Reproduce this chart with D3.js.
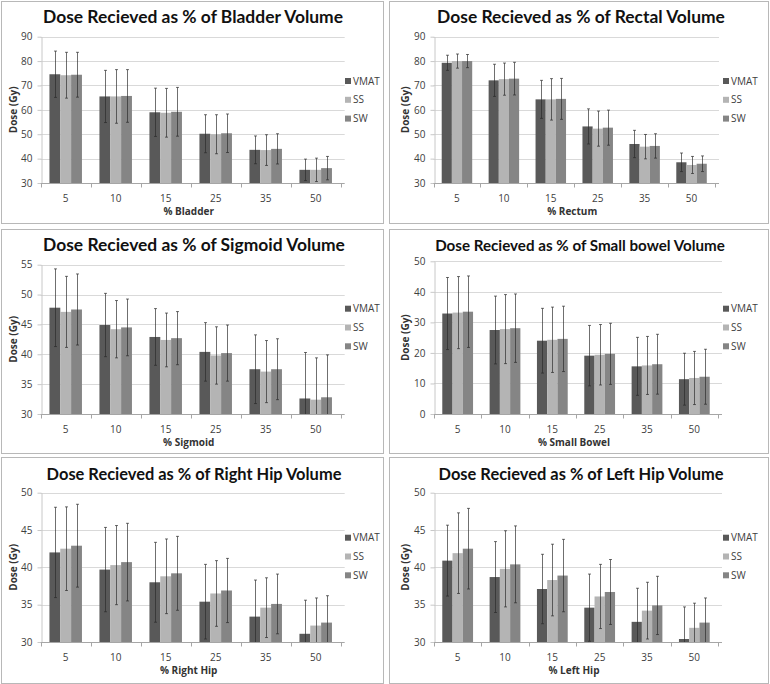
<!DOCTYPE html>
<html><head><meta charset="utf-8">
<script src="https://cdn.jsdelivr.net/npm/d3@7"></script>
<style>body{margin:0;background:#fff}svg{display:block}</style></head>
<body>
<svg id="c" width="770" height="684"></svg>
<script>
// ---------------- DATA ----------------
const categories = ["5", "10", "15", "25", "35", "50"];
const seriesNames = ["VMAT", "SS", "SW"];

const ticksDose90 = [30, 40, 50, 60, 70, 80, 90];
const ticksSigmoid = [30, 35, 40, 45, 50, 55];
const ticksBowel = [0, 10, 20, 30, 40, 50];
const ticksHip = [30, 35, 40, 45, 50];

// rows: VMAT, SS, SW ; columns follow categories
const bladderMean = [[74.6, 65.5, 59.0, 50.2, 43.6, 35.4], [74.2, 65.5, 58.8, 50.0, 43.5, 35.4], [74.4, 65.7, 59.2, 50.4, 44.0, 36.1]];
const bladderErr  = [[9.5, 10.7, 9.9, 7.8, 5.7, 4.4], [9.4, 11.0, 10.0, 8.0, 6.3, 4.8], [9.2, 10.8, 10.0, 7.9, 6.2, 4.8]];

const rectumMean = [[79.3, 72.1, 64.3, 53.2, 46.0, 38.5], [80.0, 72.6, 64.3, 52.3, 44.9, 37.4], [80.0, 72.8, 64.5, 52.7, 45.2, 37.9]];
const rectumErr  = [[3.1, 6.6, 7.8, 7.2, 5.6, 3.8], [2.9, 6.6, 8.5, 7.2, 5.0, 3.5], [2.7, 6.7, 8.4, 7.2, 5.0, 3.2]];

const sigmoidMean = [[47.8, 44.9, 42.9, 40.4, 37.5, 32.6], [47.1, 44.2, 42.4, 39.8, 37.1, 32.4], [47.5, 44.5, 42.7, 40.2, 37.5, 32.8]];
const sigmoidErr  = [[6.5, 5.3, 4.75, 4.9, 5.75, 7.7], [5.95, 4.8, 4.5, 4.8, 5.2, 7.0], [5.95, 4.75, 4.45, 4.7, 5.1, 7.1]];

const bowelMean = [[32.9, 27.5, 24.0, 19.1, 15.6, 11.4], [33.2, 27.8, 24.3, 19.4, 15.9, 11.8], [33.5, 28.1, 24.6, 19.7, 16.3, 12.2]];
const bowelErr  = [[11.8, 11.1, 10.6, 9.9, 9.5, 8.5], [11.8, 11.3, 10.7, 9.9, 9.5, 8.7], [11.7, 11.2, 10.7, 10.0, 9.8, 9.0]];

const rightHipMean = [[42.0, 39.7, 38.0, 35.4, 33.4, 31.1], [42.5, 40.3, 38.8, 36.5, 34.6, 32.2], [42.9, 40.7, 39.2, 36.9, 35.1, 32.6]];
const rightHipErr  = [[6.05, 5.65, 5.35, 5.0, 4.9, 4.5], [5.6, 5.3, 5.0, 4.4, 4.0, 3.7], [5.55, 5.2, 4.95, 4.3, 4.0, 3.6]];

const leftHipMean = [[40.9, 38.7, 37.1, 34.6, 32.7, 30.4], [41.9, 39.8, 38.3, 36.1, 34.2, 31.9], [42.5, 40.4, 38.9, 36.7, 34.9, 32.6]];
const leftHipErr  = [[4.75, 4.75, 4.65, 4.5, 4.5, 4.3], [5.4, 5.1, 4.8, 4.3, 3.8, 3.3], [5.4, 5.15, 4.85, 4.35, 3.9, 3.3]];

// ---------------- LAYOUT ----------------
const panels = [
  {title: "Dose Recieved as % of Bladder Volume", xTitle: "% Bladder", ticks: ticksDose90, mean: bladderMean, err: bladderErr,
   box: [1, 1, 382, 222], left: 40.7, right: 340.7, top: 36.7, bottom: 183, titleX: 193, titleY: 23, titleW: 300, yTitleX: 13, legX: 345, legY: 81},
  {title: "Dose Recieved as % of Rectal Volume", xTitle: "% Rectum", ticks: ticksDose90, mean: rectumMean, err: rectumErr,
   box: [389, 1, 379, 222], left: 433.5, right: 715, top: 36.7, bottom: 183, titleX: 581, titleY: 23, titleW: 288, yTitleX: 405, legX: 723, legY: 81},
  {title: "Dose Recieved as % of Sigmoid Volume", xTitle: "% Sigmoid", ticks: ticksSigmoid, mean: sigmoidMean, err: sigmoidErr,
   box: [1, 229, 382, 224], left: 40.7, right: 340.7, top: 264.7, bottom: 414, titleX: 194, titleY: 251, titleW: 302, yTitleX: 13, legX: 345, legY: 308.7},
  {title: "Dose Recieved as % of Small bowel Volume", xTitle: "% Small Bowel", ticks: ticksBowel, mean: bowelMean, err: bowelErr,
   box: [389, 229, 379, 224], left: 434, right: 718, top: 261.3, bottom: 414, titleX: 580, titleY: 251, titleW: 290, yTitleX: 405, legX: 723, legY: 308.7},
  {title: "Dose Recieved as % of Right Hip Volume", xTitle: "% Right Hip", ticks: ticksHip, mean: rightHipMean, err: rightHipErr,
   box: [1, 457, 382, 226], left: 40.7, right: 340.7, top: 492.7, bottom: 642, titleX: 194, titleY: 480, titleW: 295, yTitleX: 13, legX: 345, legY: 537.7},
  {title: "Dose Recieved as % of Left Hip Volume", xTitle: "% Left Hip", ticks: ticksHip, mean: leftHipMean, err: leftHipErr,
   box: [389, 457, 379, 226], left: 434, right: 718, top: 492.7, bottom: 642, titleX: 581, titleY: 480, titleW: 285, yTitleX: 405, legX: 723, legY: 537.7}
];

const colors = {VMAT: "#595959", SS: "#b4b4b4", SW: "#858585"};
const FONT = "'Open Sans', 'Liberation Sans', sans-serif";
const TITLEFONT = "Lato, 'Open Sans', sans-serif";

const svg = d3.select("#c");

panels.forEach((p, pi) => {
  const g = svg.append("g");
  g.append("rect")
    .attr("x", p.box[0] + 0.5).attr("y", p.box[1] + 0.5)
    .attr("width", p.box[2]).attr("height", p.box[3])
    .attr("fill", "#fff").attr("stroke", "#b8b8b8").attr("stroke-width", 1);

  const x0 = d3.scaleBand().domain(categories).range([p.left, p.right]).paddingInner(0.35).paddingOuter(0.175);
  const x1 = d3.scaleBand().domain(seriesNames).range([0, x0.bandwidth()]);
  const y = d3.scaleLinear().domain([p.ticks[0], p.ticks[p.ticks.length - 1]]).range([p.bottom, p.top]);

  // gridlines
  g.append("g").selectAll("line").data(p.ticks.slice(1)).join("line")
    .attr("x1", p.left).attr("x2", p.right + 4)
    .attr("y1", d => Math.round(y(d)) + 0.5).attr("y2", d => Math.round(y(d)) + 0.5)
    .attr("stroke", "#d9d9d9").attr("stroke-width", 1);

  // y axis
  const ya = g.append("g").attr("transform", `translate(${Math.round(p.left) + 0.5},0)`)
    .call(d3.axisLeft(y).tickValues(p.ticks).tickSize(4).tickPadding(5).tickSizeOuter(0));
  ya.select(".domain").attr("stroke", "#c8c8c8");
  ya.selectAll(".tick line").attr("stroke", "#c8c8c8");
  ya.selectAll(".tick text").attr("font-family", FONT).attr("font-size", 10).attr("fill", "#404040");

  // x axis
  const xa = g.append("g").attr("transform", `translate(0,${Math.round(p.bottom) + 0.5})`)
    .call(d3.axisBottom(x0).tickSize(0).tickPadding(11).tickSizeOuter(0));
  xa.select(".domain").attr("stroke", "#a6a6a6").attr("d", `M${p.left},0H${p.right + 4}`);
  xa.selectAll(".tick text").attr("font-family", FONT).attr("font-size", 10).attr("fill", "#404040");
  const bounds = categories.map(c => x0(c) - x0.step() * x0.paddingInner() / 2).concat([p.right]);
  xa.append("g").selectAll("line").data(bounds).join("line")
    .attr("x1", d => Math.round(d) + 0.5).attr("x2", d => Math.round(d) + 0.5)
    .attr("y1", 0).attr("y2", 4).attr("stroke", "#a6a6a6");

  // clip
  const cid = "clip" + pi;
  svg.append("clipPath").attr("id", cid).append("rect")
    .attr("x", p.left).attr("y", p.top - 20).attr("width", p.right - p.left).attr("height", p.bottom - p.top + 20);

  const plot = g.append("g").attr("clip-path", `url(#${cid})`);
  seriesNames.forEach((s, si) => {
    const rows = categories.map((c, ci) => ({c, m: p.mean[si][ci], e: p.err[si][ci]}));
    plot.append("g").selectAll("rect").data(rows).join("rect")
      .attr("x", d => x0(d.c) + x1(s)).attr("width", x1.bandwidth())
      .attr("y", d => y(d.m)).attr("height", d => y(p.ticks[0]) - y(d.m))
      .attr("fill", colors[s]);
  });
  seriesNames.forEach((s, si) => {
    const rows = categories.map((c, ci) => ({c, m: p.mean[si][ci], e: p.err[si][ci]}));
    const eb = plot.append("g").attr("stroke", "#2a2a2a").attr("stroke-width", 0.8).attr("stroke-opacity", 0.85);
    const cx = d => Math.round(x0(d.c) + x1(s) + x1.bandwidth() / 2) + 0.5;
    eb.selectAll("line.v").data(rows).join("line").attr("class", "v")
      .attr("x1", cx).attr("x2", cx).attr("y1", d => y(d.m + d.e)).attr("y2", d => y(d.m - d.e));
    eb.selectAll("line.t").data(rows).join("line").attr("class", "t")
      .attr("x1", d => cx(d) - 1.5).attr("x2", d => cx(d) + 1.5).attr("y1", d => y(d.m + d.e)).attr("y2", d => y(d.m + d.e));
    eb.selectAll("line.b").data(rows).join("line").attr("class", "b")
      .attr("x1", d => cx(d) - 1.5).attr("x2", d => cx(d) + 1.5).attr("y1", d => y(d.m - d.e)).attr("y2", d => y(d.m - d.e));
  });

  // title
  const t = g.append("text").text(p.title)
    .attr("x", p.titleX).attr("y", p.titleY).attr("text-anchor", "middle")
    .attr("font-family", TITLEFONT).attr("font-weight", "bold").attr("font-size", 18).attr("fill", "#111");
  const w = t.node().getComputedTextLength();
  t.attr("font-size", (18 * p.titleW / w).toFixed(2));

  // axis titles
  g.append("text").text(p.xTitle)
    .attr("x", (p.left + p.right) / 2 - 2).attr("y", p.bottom + 32)
    .attr("text-anchor", "middle").attr("font-family", FONT).attr("font-weight", "bold")
    .attr("font-size", 10).attr("fill", "#333");
  g.append("text").text("Dose (Gy)")
    .attr("transform", `translate(${p.yTitleX + 3.5},${(p.top + p.bottom) / 2}) rotate(-90)`)
    .attr("text-anchor", "middle").attr("font-family", FONT).attr("font-weight", "bold")
    .attr("font-size", 10).attr("fill", "#333");

  // legend
  const lg = g.append("g");
  seriesNames.forEach((s, si) => {
    const ly = p.legY + si * 18.8;
    lg.append("rect").attr("x", p.legX).attr("y", ly - 3).attr("width", 6).attr("height", 6).attr("fill", colors[s]);
    lg.append("text").text(s).attr("x", p.legX + 8).attr("y", ly + 3.6)
      .attr("font-family", FONT).attr("font-size", 10).attr("fill", "#404040");
  });
});
</script>
</body></html>
